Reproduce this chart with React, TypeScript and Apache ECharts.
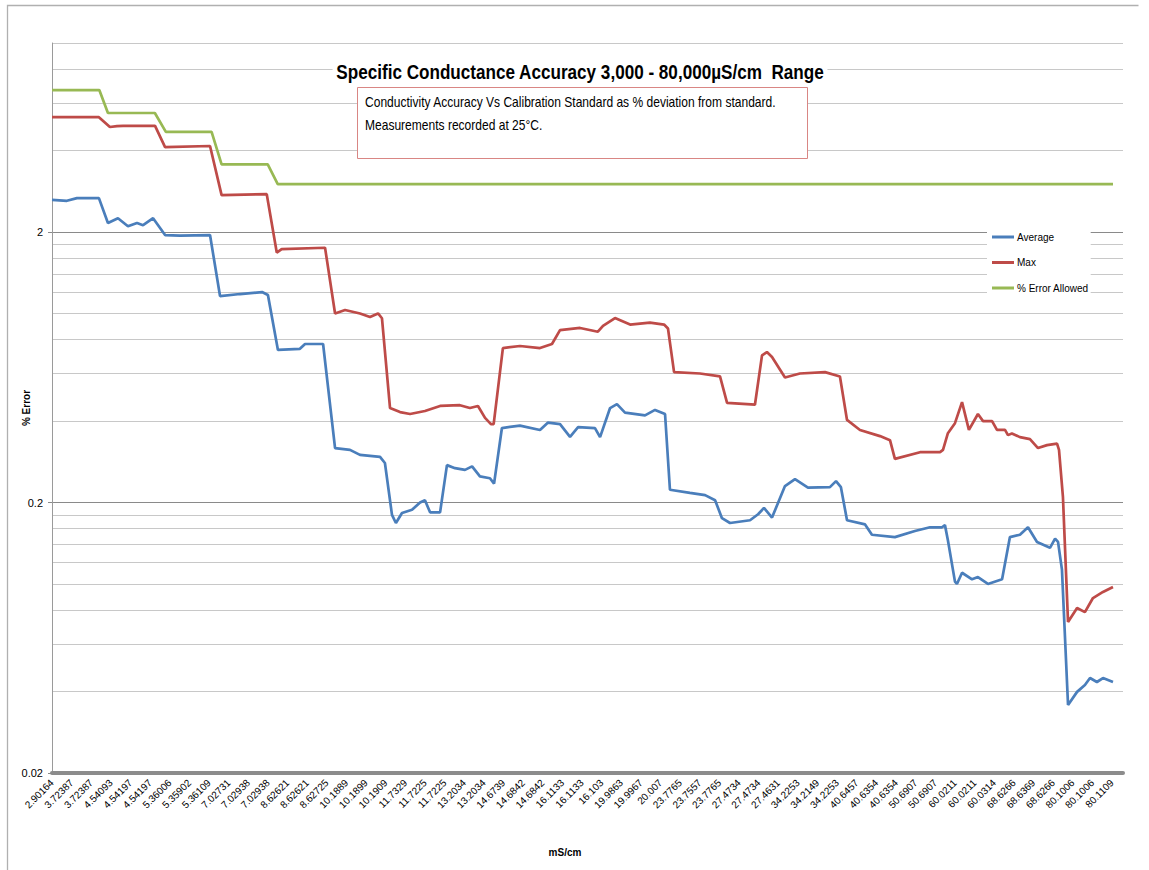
import React, { useEffect, useRef } from 'react';
import * as echarts from 'echarts';

const xLabels = [
  '2.90164', '3.72387', '3.72387', '4.54093', '4.54197', '4.54197', '5.36006', '5.35902', '5.36109',
  '7.02731', '7.02938', '7.02938', '8.62621', '8.62621', '8.62725', '10.1889', '10.1899', '10.1909',
  '11.7329', '11.7225', '11.7225', '13.2034', '13.2034', '14.6739', '14.6842', '14.6842', '16.1133',
  '16.1133', '16.103', '19.9863', '19.9967', '20.007', '23.7765', '23.7557', '23.7765', '27.4734',
  '27.4734', '27.4631', '34.2253', '34.2149', '34.2253', '40.6457', '40.6354', '40.6354', '50.6907',
  '50.6907', '60.0211', '60.0211', '60.0314', '68.6266', '68.6369', '68.6266', '80.1006', '80.1006',
  '80.1109',
];

const gridValues = [
  0.02, 0.04, 0.06, 0.08, 0.1, 0.12, 0.14, 0.16, 0.18, 0.2,
  0.4, 0.6, 0.8, 1, 1.2, 1.4, 1.6, 1.8, 2,
  4, 6, 8, 10,
];
const majorValues = [0.02, 0.2, 2];

// [position along the category axis (label index), % error]
const averageData = [
  [0, 2.63], [0.76, 2.61], [1.27, 2.67], [2.39, 2.67], [2.85, 2.16], [3.36, 2.25], [3.87, 2.1],
  [4.33, 2.16], [4.64, 2.12], [5.15, 2.25], [5.76, 1.95], [6.52, 1.94], [8.05, 1.95], [8.56, 1.16],
  [9.58, 1.18], [10.7, 1.2], [11.0, 1.17], [11.51, 0.733], [12.63, 0.74], [12.89, 0.771], [13.81, 0.771],
  [14.42, 0.318], [15.18, 0.313], [15.69, 0.3], [16.71, 0.295], [16.96, 0.28], [17.32, 0.18], [17.52, 0.168],
  [17.83, 0.183], [18.34, 0.188], [18.75, 0.2], [19.0, 0.204], [19.26, 0.184], [19.77, 0.184], [20.12, 0.275],
  [20.53, 0.268], [21.04, 0.264], [21.4, 0.272], [21.8, 0.25], [22.31, 0.246], [22.52, 0.235], [22.92, 0.377],
  [23.84, 0.385], [24.86, 0.371], [25.27, 0.395], [25.88, 0.39], [26.39, 0.35], [26.8, 0.38], [27.66, 0.377],
  [27.92, 0.349], [28.43, 0.447], [28.78, 0.462], [29.19, 0.43], [30.21, 0.42], [30.72, 0.44], [31.23, 0.425],
  [31.48, 0.223], [32.5, 0.217], [33.27, 0.213], [33.78, 0.204], [34.13, 0.175], [34.54, 0.168], [35.56, 0.172],
  [35.97, 0.181], [36.27, 0.191], [36.68, 0.176], [37.34, 0.23], [37.85, 0.244], [38.51, 0.227], [39.63, 0.228],
  [39.94, 0.24], [40.19, 0.228], [40.5, 0.172], [41.42, 0.166], [41.77, 0.152], [42.94, 0.149], [43.96, 0.157],
  [44.73, 0.162], [45.34, 0.162], [45.49, 0.165], [45.64, 0.145], [46.0, 0.102], [46.1, 0.1], [46.36, 0.11],
  [46.87, 0.104], [47.17, 0.106], [47.68, 0.1], [48.4, 0.104], [48.8, 0.149], [49.31, 0.152], [49.72, 0.162],
  [50.18, 0.143], [50.84, 0.136], [51.1, 0.147], [51.25, 0.143], [51.45, 0.113], [51.76, 0.0357], [52.22, 0.0399],
  [52.62, 0.0423], [52.88, 0.0449], [53.23, 0.0434], [53.54, 0.0449], [54.05, 0.0434],
];

const maxData = [
  [0, 5.32], [2.39, 5.32], [2.95, 4.89], [3.31, 4.93], [3.62, 4.94], [5.25, 4.94], [5.76, 4.12], [8.05, 4.16],
  [8.64, 2.74], [10.94, 2.76], [11.45, 1.68], [11.7, 1.73], [13.91, 1.75], [14.42, 1.0], [14.93, 1.03],
  [15.69, 1.0], [16.2, 0.97], [16.61, 1.0], [16.81, 0.96], [17.22, 0.447], [17.73, 0.432], [18.24, 0.425],
  [19.0, 0.436], [19.77, 0.455], [20.78, 0.458], [21.29, 0.447], [21.7, 0.455], [22.06, 0.411], [22.36, 0.39],
  [22.5, 0.39], [22.97, 0.745], [23.84, 0.758], [24.86, 0.745], [25.47, 0.771], [25.88, 0.868], [26.9, 0.884],
  [27.81, 0.856], [28.07, 0.9], [28.68, 0.962], [29.45, 0.91], [30.46, 0.925], [31.18, 0.91], [31.38, 0.88],
  [31.69, 0.607], [33.01, 0.6], [34.03, 0.585], [34.39, 0.467], [35.81, 0.46], [36.17, 0.7], [36.42, 0.72],
  [36.68, 0.69], [37.34, 0.58], [38.1, 0.6], [39.38, 0.607], [40.14, 0.585], [40.5, 0.404], [41.16, 0.371],
  [42.18, 0.352], [42.69, 0.34], [42.94, 0.29], [44.22, 0.307], [45.24, 0.307], [45.39, 0.313], [45.64, 0.361],
  [46.0, 0.393], [46.36, 0.47], [46.71, 0.371], [47.17, 0.425], [47.43, 0.4], [47.89, 0.4], [48.14, 0.371],
  [48.55, 0.371], [48.7, 0.355], [48.9, 0.36], [49.31, 0.349], [49.82, 0.343], [50.23, 0.318], [50.69, 0.326],
  [51.2, 0.33], [51.3, 0.313], [51.5, 0.21], [51.76, 0.0723], [52.22, 0.0815], [52.62, 0.0787], [53.03, 0.0887],
  [53.54, 0.0934], [54.05, 0.0974],
];

const allowedData = [
  [0, 6.7], [2.41, 6.7], [2.85, 5.51], [5.24, 5.51], [5.8, 4.69], [8.13, 4.69], [8.64, 3.56],
  [10.99, 3.56], [11.5, 3.01], [54.05, 3.01],
];

const seriesNames = ['Average', 'Max', '% Error Allowed'];
const seriesColors = ['#4A7EBB', '#BE4B48', '#98B954'];

const titleText = 'Specific Conductance Accuracy 3,000 - 80,000\u00b5S/cm  Range';
const noteLine1 = 'Conductivity Accuracy Vs Calibration Standard as % deviation from standard.';
const noteLine2 = 'Measurements recorded at 25\u00b0C.';

const FONT = "'Liberation Sans', Arial, sans-serif";

export default function App() {
  const ref = useRef<HTMLDivElement>(null);

  useEffect(() => {
    const chart = echarts.init(ref.current as HTMLDivElement, null, { renderer: 'svg' });
    const splitColors = gridValues.map((v) =>
      v === 0.2 || v === 2 ? '#8a8a8a' : '#c8c8c8'
    );
    const option: any = {
      animation: false,
      backgroundColor: '#ffffff',
      textStyle: { fontFamily: FONT },
      grid: {
        left: 52,
        top: 43,
        right: 26,
        bottom: 97,
        containLabel: false,
        outerBoundsMode: 'none',
      },
      legend: {
        orient: 'vertical',
        left: 987,
        top: 226,
        padding: [6, 2, 5, 5],
        backgroundColor: '#ffffff',
        icon: 'rect',
        itemWidth: 22,
        itemHeight: 3,
        itemGap: 15.5,
        textStyle: { fontSize: 10, color: '#000', fontFamily: FONT, padding: [0, 0, 0, -2] },
        data: seriesNames,
      },
      xAxis: {
        type: 'value',
        min: 0,
        max: 54.56,
        interval: 1,
        name: 'mS/cm',
        nameLocation: 'middle',
        nameGap: 74,
        nameMoveOverlap: false,
        nameTextStyle: {
          fontSize: 10,
          fontWeight: 'bold',
          color: '#000',
          padding: [0, 45, 0, 0],
        },
        axisLine: { show: true, onZero: false, lineStyle: { color: '#8c8c8c', width: 4 } },
        axisTick: { show: false },
        splitLine: { show: false },
        axisLabel: {
          rotate: 45,
          margin: 8,
          fontSize: 10,
          color: '#000',
          formatter: (v: number) => {
            const r = Math.round(v);
            return Math.abs(v - r) < 1e-6 && xLabels[r] !== undefined ? xLabels[r] : '';
          },
        },
      },
      yAxis: [
        {
          type: 'log',
          logBase: 10,
          min: 0.02,
          max: 10,
          name: '% Error',
          nameLocation: 'middle',
          nameGap: 21,
          nameRotate: 90,
          nameMoveOverlap: false,
          nameTextStyle: { fontSize: 10, fontWeight: 'bold', color: '#000' },
          axisLine: { show: true, lineStyle: { color: '#9a9a9a', width: 1 } },
          axisTick: { show: false, customValues: gridValues },
          axisLabel: {
            customValues: majorValues,
            margin: 9,
            fontSize: 11,
            color: '#000',
            formatter: (v: number) => String(+Number(v).toPrecision(2)),
          },
          splitLine: {
            show: true,
            customValues: gridValues,
            lineStyle: { color: splitColors, width: 1 },
          },
        },
        {
          type: 'log',
          logBase: 10,
          min: 0.02,
          max: 10,
          position: 'left',
          axisLine: { show: false },
          axisTick: { show: true, customValues: majorValues, length: 4, lineStyle: { color: '#8a8a8a' } },
          axisLabel: { show: false },
          splitLine: { show: false },
        },
      ],
      series: [
        { name: seriesNames[0], data: averageData, color: seriesColors[0] },
        { name: seriesNames[1], data: maxData, color: seriesColors[1] },
        { name: seriesNames[2], data: allowedData, color: seriesColors[2] },
      ].map((s) => ({
        type: 'line',
        name: s.name,
        data: s.data,
        xAxisIndex: 0,
        yAxisIndex: 0,
        symbol: 'none',
        showSymbol: false,
        lineStyle: { color: s.color, width: 2.7 },
        itemStyle: { color: s.color },
      })),
      graphic: [
        {
          type: 'polyline',
          z: 1,
          silent: true,
          shape: { points: [[7.5, 880], [7.5, 5.5], [1138.5, 5.5]] },
          style: { stroke: '#b0b0b0', lineWidth: 1.3, fill: 'none' },
        },
        {
          type: 'text',
          z: 10,
          x: 580,
          y: 71.5,
          scaleX: 0.815,
          style: {
            text: titleText,
            x: 0,
            y: 0,
            align: 'center',
            verticalAlign: 'middle',
            font: `bold 21px ${FONT}`,
            fill: '#000',
            backgroundColor: '#ffffff',
            padding: [3, 4, 3, 4],
          },
        },
        {
          type: 'rect',
          z: 10,
          shape: { x: 357.5, y: 87.5, width: 450, height: 71 },
          style: { fill: '#ffffff', stroke: '#d98684', lineWidth: 1 },
        },
        {
          type: 'text',
          z: 11,
          x: 365,
          y: 102.5,
          scaleX: 0.86,
          style: {
            text: noteLine1,
            x: 0,
            y: 0,
            align: 'left',
            verticalAlign: 'middle',
            font: `14px ${FONT}`,
            fill: '#000',
          },
        },
        {
          type: 'text',
          z: 11,
          x: 365,
          y: 125.5,
          scaleX: 0.86,
          style: {
            text: noteLine2,
            x: 0,
            y: 0,
            align: 'left',
            verticalAlign: 'middle',
            font: `14px ${FONT}`,
            fill: '#000',
          },
        },
      ],
    };
    chart.setOption(option);
    return () => chart.dispose();
  }, []);

  return (
    <div
      ref={ref}
      style={{ position: 'absolute', left: 0, top: 0, width: 1149, height: 870, background: '#fff' }}
    />
  );
}
